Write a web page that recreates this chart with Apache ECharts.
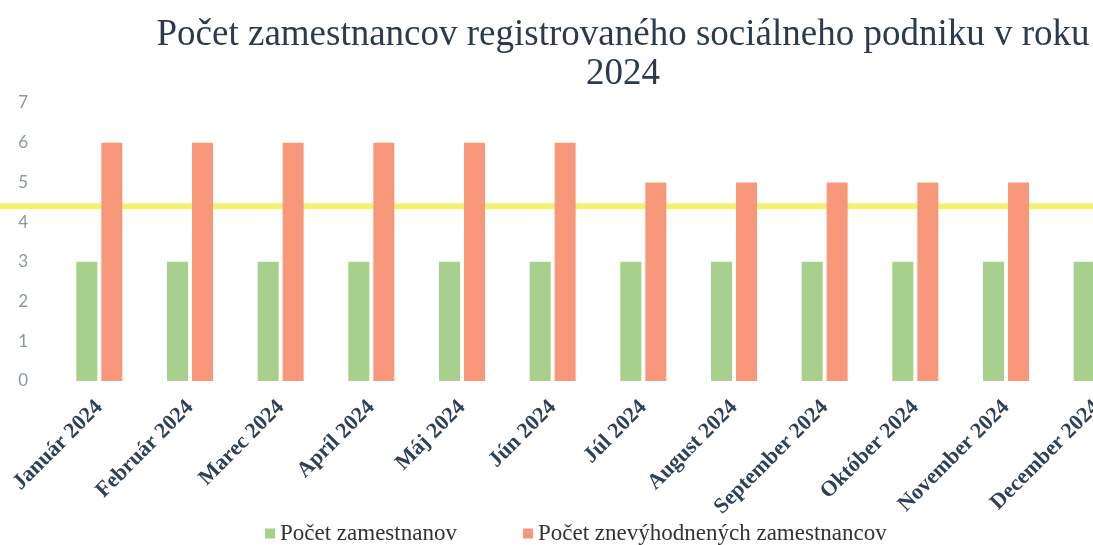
<!DOCTYPE html>
<html lang="sk">
<head>
    <meta charset="UTF-8">
    <title>Počet zamestnancov 2024</title>
    <script src="https://cdn.jsdelivr.net/npm/echarts@6/dist/echarts.min.js"></script>
    <style>
        html, body { margin: 0; padding: 0; background: #ffffff; overflow: hidden; }
        /* chart is a bit wider than the window, the right edge is cut off like in the scan */
        #chart { width: 1160px; height: 545px; }
    </style>
</head>
<body>
    <div id="chart"></div>
    <script>
        // data
        const months = ['Január 2024', 'Február 2024', 'Marec 2024', 'Apríl 2024', 'Máj 2024', 'Jún 2024',
            'Júl 2024', 'August 2024', 'September 2024', 'Október 2024', 'November 2024', 'December 2024'];
        const employees = [3, 3, 3, 3, 3, 3, 3, 3, 3, 3, 3, 3];
        const disadvantaged = [6, 6, 6, 6, 6, 6, 5, 5, 5, 5, 5, 5];
        const threshold = 4.4;
        const yTicks = [0, 1, 2, 3, 4, 5, 6, 7];
        const seriesNames = ['Počet zamestnanov', 'Počet znevýhodnených zamestnancov'];

        const serif = '"Liberation Serif", "Times New Roman", serif';
        const chart = echarts.init(document.getElementById('chart'));

        const option = {
            title: {
                text: 'Počet zamestnancov registrovaného sociálneho podniku v roku\n2024',
                left: 618,
                top: 11,
                textAlign: 'center',
                textStyle: {
                    fontFamily: serif,
                    fontSize: 37,
                    fontWeight: 'normal',
                    color: '#2b3a4e',
                    lineHeight: 39
                }
            },
            legend: [
                {
                    data: [seriesNames[0]],
                    left: 260,
                    bottom: -5,
                    icon: 'rect',
                    itemWidth: 10,
                    itemHeight: 10,
                    itemGap: 4,
                    textStyle: { fontFamily: serif, fontSize: 23, color: '#333' }
                },
                {
                    data: [seriesNames[1]],
                    left: 518,
                    bottom: -5,
                    icon: 'rect',
                    itemWidth: 10,
                    itemHeight: 10,
                    textStyle: { fontFamily: serif, fontSize: 23, color: '#333' }
                }
            ],
            grid: [
                { left: 54, right: 18, top: 103, bottom: 164 },
                // full-width grid just for the yellow line
                { left: 0, right: 0, top: 103, bottom: 164 }
            ],
            xAxis: [
                {
                    type: 'category',
                    data: months,
                    gridIndex: 0,
                    axisLine: { show: false },
                    axisTick: { show: false },
                    axisLabel: {
                        rotate: 45,
                        interval: 0,
                        margin: 23,
                        fontFamily: serif,
                        fontWeight: 'bold',
                        fontSize: 22,
                        color: '#2f4156'
                    }
                },
                { type: 'value', gridIndex: 1, min: 0, max: 1, show: false }
            ],
            yAxis: [
                {
                    type: 'value',
                    gridIndex: 0,
                    min: yTicks[0],
                    max: yTicks[yTicks.length - 1],
                    interval: 1,
                    splitLine: { show: false },
                    axisLine: { show: false },
                    axisTick: { show: false },
                    axisLabel: {
                        margin: 26,
                        fontFamily: 'Lato, "Open Sans", sans-serif',
                        fontSize: 17,
                        color: '#8a97a5'
                    }
                },
                { type: 'value', gridIndex: 1, min: yTicks[0], max: yTicks[yTicks.length - 1], show: false }
            ],
            series: [
                {
                    name: 'threshold',
                    type: 'line',
                    xAxisIndex: 1,
                    yAxisIndex: 1,
                    data: [[0, threshold], [1, threshold]],
                    symbol: 'none',
                    silent: true,
                    z: 1,
                    lineStyle: { color: '#f4f072', width: 6 }
                },
                {
                    name: seriesNames[0],
                    type: 'bar',
                    data: employees,
                    barWidth: 21,
                    barGap: '19%',
                    z: 3,
                    itemStyle: { color: '#a8d08d' }
                },
                {
                    name: seriesNames[1],
                    type: 'bar',
                    data: disadvantaged,
                    barWidth: 21,
                    z: 3,
                    itemStyle: { color: '#f8977a' }
                }
            ]
        };

        chart.setOption(option);
    </script>
</body>
</html>
